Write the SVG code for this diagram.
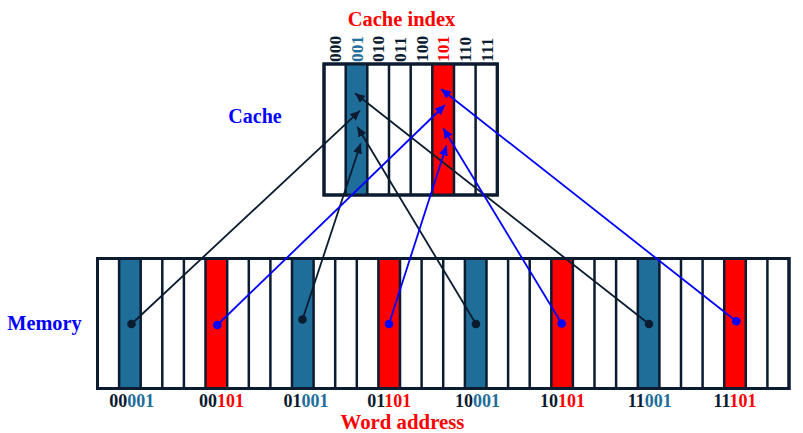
<svg xmlns="http://www.w3.org/2000/svg" width="803" height="433" viewBox="0 0 803 433">
<style>
.frame{fill:#fff;stroke:#0b1b30;stroke-width:3}
.div{stroke:#0b1b30;stroke-width:2.5}
.teal{fill:#1f6e9a}
.red{fill:#ff0000}
.lbl{font-family:"Liberation Serif","Times New Roman",serif;font-weight:bold}
.k{fill:#0b1b30}
.t{fill:#1f6e9a}
.r{fill:#ff0000}
.b{fill:#0000ff}
.cb{stroke:#0b1b30;stroke-width:1.8;fill:none}
.cl{stroke:#0000ff;stroke-width:1.8;fill:none}
</style>
<defs>
<marker id="ak" markerUnits="userSpaceOnUse" markerWidth="11" markerHeight="9" refX="10" refY="4.5" orient="auto"><path d="M0,0 L10,4.5 L0,9 Z" fill="#0b1b30"/></marker>
<marker id="ab" markerUnits="userSpaceOnUse" markerWidth="11" markerHeight="9" refX="10" refY="4.5" orient="auto"><path d="M0,0 L10,4.5 L0,9 Z" fill="#0000ff"/></marker>
</defs>

<g id="cache">
<rect class="frame" x="324" y="64" width="173.3" height="131"/>
<rect class="teal" x="345.7" y="64" width="21.7" height="131"/>
<rect class="red" x="432.3" y="64" width="21.7" height="131"/>
<path class="div" d="M345.7,64V195M367.3,64V195M389,64V195M410.7,64V195M432.3,64V195M454,64V195M475.6,64V195"/>
<rect x="324" y="64" width="173.3" height="131" fill="none" stroke="#0b1b30" stroke-width="3"/>
</g>

<g id="cache-index" class="lbl" font-size="17.5">
<text class="k" transform="translate(341,62) rotate(-90)">000</text>
<text class="t" transform="translate(362.7,62) rotate(-90)">001</text>
<text class="k" transform="translate(384.3,62) rotate(-90)">010</text>
<text class="k" transform="translate(406,62) rotate(-90)">011</text>
<text class="k" transform="translate(427.6,62) rotate(-90)">100</text>
<text class="r" transform="translate(449.3,62) rotate(-90)">101</text>
<text class="k" transform="translate(471,62) rotate(-90)">110</text>
<text class="k" transform="translate(492.6,62) rotate(-90)">111</text>
</g>

<g id="memory">
<rect class="frame" x="97.5" y="258.5" width="691.5" height="130"/>
<rect class="teal" x="119.1" y="258.5" width="21.6" height="130"/>
<rect class="red" x="205.5" y="258.5" width="21.6" height="130"/>
<rect class="teal" x="292" y="258.5" width="21.6" height="130"/>
<rect class="red" x="378.4" y="258.5" width="21.6" height="130"/>
<rect class="teal" x="464.9" y="258.5" width="21.6" height="130"/>
<rect class="red" x="551.3" y="258.5" width="21.6" height="130"/>
<rect class="teal" x="637.8" y="258.5" width="21.6" height="130"/>
<rect class="red" x="724.2" y="258.5" width="21.6" height="130"/>
<path class="div" d="M119.1,258.5V388.5M140.7,258.5V388.5M162.3,258.5V388.5M183.9,258.5V388.5M205.5,258.5V388.5M227.2,258.5V388.5M248.8,258.5V388.5M270.4,258.5V388.5M292,258.5V388.5M313.6,258.5V388.5M335.2,258.5V388.5M356.8,258.5V388.5M378.4,258.5V388.5M400,258.5V388.5M421.6,258.5V388.5M443.2,258.5V388.5M464.9,258.5V388.5M486.5,258.5V388.5M508.1,258.5V388.5M529.7,258.5V388.5M551.3,258.5V388.5M572.9,258.5V388.5M594.5,258.5V388.5M616.1,258.5V388.5M637.8,258.5V388.5M659.4,258.5V388.5M681,258.5V388.5M702.6,258.5V388.5M724.2,258.5V388.5M745.8,258.5V388.5M767.4,258.5V388.5"/>
<rect x="97.5" y="258.5" width="691.5" height="130" fill="none" stroke="#0b1b30" stroke-width="3"/>
</g>

<g id="connectors">
<line class="cb" x1="131.5" y1="324" x2="360" y2="110.7" marker-end="url(#ak)"/>
<line class="cb" x1="302.5" y1="319.5" x2="360.7" y2="143.5" marker-end="url(#ak)"/>
<line class="cb" x1="476" y1="324" x2="357.3" y2="126.7" marker-end="url(#ak)"/>
<line class="cb" x1="649" y1="324" x2="355" y2="93.3" marker-end="url(#ak)"/>
<line class="cl" x1="217.3" y1="325" x2="445" y2="105" marker-end="url(#ab)"/>
<line class="cl" x1="389" y1="324" x2="446.5" y2="145.5" marker-end="url(#ab)"/>
<line class="cl" x1="561.7" y1="323.5" x2="443.3" y2="128.3" marker-end="url(#ab)"/>
<line class="cl" x1="736.3" y1="321.3" x2="441" y2="89" marker-end="url(#ab)"/>
<circle cx="131.5" cy="324" r="4.3" fill="#0b1b30"/>
<circle cx="302.5" cy="319.5" r="4.3" fill="#0b1b30"/>
<circle cx="476" cy="324" r="4.3" fill="#0b1b30"/>
<circle cx="649" cy="324" r="4.3" fill="#0b1b30"/>
<circle cx="217.3" cy="325" r="4.3" fill="#0000ff"/>
<circle cx="389" cy="324" r="4.3" fill="#0000ff"/>
<circle cx="561.7" cy="323.5" r="4.3" fill="#0000ff"/>
<circle cx="736.3" cy="321.3" r="4.3" fill="#0000ff"/>
</g>

<g id="labels" class="lbl">
<text x="401.5" y="26" font-size="20.5" text-anchor="middle" class="r">Cache index</text>
<text x="255" y="122.5" font-size="20" text-anchor="middle" class="b">Cache</text>
<text x="44.5" y="329.5" font-size="20.3" text-anchor="middle" class="b">Memory</text>
<text x="402.5" y="428.5" font-size="20.8" text-anchor="middle" class="r">Word address</text>
</g>

<g id="word-addresses" class="lbl" font-size="18" text-anchor="middle">
<text x="131.7" y="406.5"><tspan class="k">00</tspan><tspan class="t">001</tspan></text>
<text x="221.5" y="406.5"><tspan class="k">00</tspan><tspan class="r">101</tspan></text>
<text x="306" y="406.5"><tspan class="k">01</tspan><tspan class="t">001</tspan></text>
<text x="389.2" y="406.5"><tspan class="k">01</tspan><tspan class="r">101</tspan></text>
<text x="477.5" y="406.5"><tspan class="k">10</tspan><tspan class="t">001</tspan></text>
<text x="562.5" y="406.5"><tspan class="k">10</tspan><tspan class="r">101</tspan></text>
<text x="649.7" y="406.5"><tspan class="k">11</tspan><tspan class="t">001</tspan></text>
<text x="735" y="406.5"><tspan class="k">11</tspan><tspan class="r">101</tspan></text>
</g>
</svg>
